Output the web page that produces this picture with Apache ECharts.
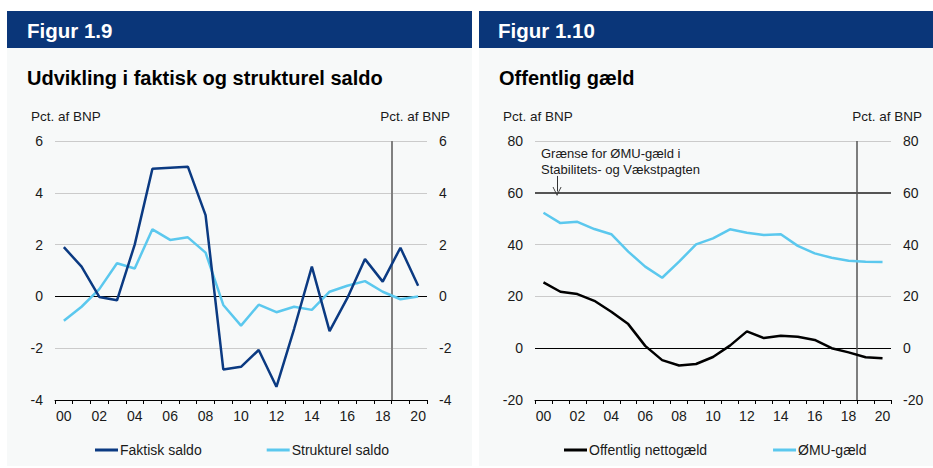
<!DOCTYPE html>
<html>
<head>
<meta charset="utf-8">
<script src="https://cdn.jsdelivr.net/npm/echarts@6/dist/echarts.min.js"></script>
<style>
html,body{margin:0;padding:0;background:#fff;}
#c{width:933px;height:468px;}
</style>
</head>
<body>
<div id="c"></div>
<script>
// ---- data ----
const years = ['00','01','02','03','04','05','06','07','08','09','10','11','12','13','14','15','16','17','18','19','20'];
const faktiskSaldo = [1.9, 1.15, -0.02, -0.15, 2.0, 4.93, 4.97, 5.01, 3.14, -2.82, -2.72, -2.07, -3.49, -1.25, 1.15, -1.34, -0.07, 1.44, 0.57, 1.88, 0.41];
const strukturelSaldo = [-0.94, -0.4, 0.28, 1.28, 1.08, 2.59, 2.18, 2.28, 1.69, -0.33, -1.13, -0.32, -0.61, -0.4, -0.52, 0.18, 0.41, 0.59, 0.18, -0.11, 0.0];
const nettogaeld = [25.4, 21.8, 20.9, 18.3, 14.1, 9.3, 0.9, -4.6, -6.7, -6.1, -3.4, 1.0, 6.5, 3.9, 4.8, 4.4, 3.2, 0.0, -1.6, -3.5, -3.9];
const emuGaeld = [52.3, 48.3, 48.8, 46.0, 44.0, 37.3, 31.5, 27.2, 33.4, 40.1, 42.4, 45.9, 44.6, 43.7, 44.0, 39.5, 36.6, 34.9, 33.8, 33.4, 33.3];
const leftTicks = {min: -4, max: 6, interval: 2};
const rightTicks = {min: -20, max: 80, interval: 20};
const projectionBoundary = 18.5;   // between 18 and 19
const emuLimit = 60;
const arrowX = 0.8, arrowFrom = 66.5, arrowTo = 60.5;

// ---- styles ----
const FONT = 'Liberation Sans, Arial, sans-serif';
const TXT = '#1a1a1a';
const HEADER = '#0A3679';
const PANEL = '#F7F9F9';
const DARK = '#0B3A82';
const LIGHT = '#5BC8EE';
const GRIDC = '#CBCBCB';

const chart = echarts.init(document.getElementById('c'), null, {renderer: 'svg'});

function yAxisPair(gi, t) {
  const base = {
    type: 'value', gridIndex: gi, min: t.min, max: t.max, interval: t.interval,
    axisLine: {show: false}, axisTick: {show: false},
    axisLabel: {color: TXT, fontSize: 14, fontFamily: FONT, margin: 12}
  };
  return [
    Object.assign({}, base, {position: 'left', splitLine: {show: true, lineStyle: {color: GRIDC, width: 1}}}),
    Object.assign({}, base, {position: 'right', splitLine: {show: false}})
  ];
}
function catX(gi) {
  return {
    type: 'category', gridIndex: gi, data: years, boundaryGap: true, position: 'bottom',
    axisLine: {show: true, onZero: false, lineStyle: {color: '#000', width: 1}},
    axisTick: {show: true, interval: 0, length: 4, lineStyle: {color: '#000'}},
    axisLabel: {interval: 1, color: TXT, fontSize: 14, fontFamily: FONT, margin: 9},
    splitLine: {show: false}
  };
}
function valX(gi) {
  return {type: 'value', gridIndex: gi, min: -0.5, max: years.length - 0.5, show: false,
    axisLine: {onZero: false}};
}
function lineSeries(name, data, color, xi, yi, extra) {
  return Object.assign({
    name: name, type: 'line', data: data, xAxisIndex: xi, yAxisIndex: yi,
    symbol: 'none', lineStyle: {color: color, width: 2.5}, itemStyle: {color: color},
    z: 5, animation: false
  }, extra || {});
}
function hLine(val, color, width) {
  return {silent: true, symbol: 'none', label: {show: false}, animation: false,
    lineStyle: {color: color, width: width, type: 'solid'}, data: [{yAxis: val}]};
}

const arrowPath = 'path://M0,10 L5,0 L10,10 L9,10 L5,2 L1,10 Z';

const option = {
  animation: false,
  graphic: [
    {type: 'rect', shape: {x: 7, y: 11, width: 465, height: 455}, style: {fill: PANEL}, z: -10},
    {type: 'rect', shape: {x: 479, y: 11, width: 454, height: 455}, style: {fill: PANEL}, z: -10},
    {type: 'rect', shape: {x: 7, y: 11, width: 465, height: 37}, style: {fill: HEADER}, z: -9},
    {type: 'rect', shape: {x: 479, y: 11, width: 454, height: 37}, style: {fill: HEADER}, z: -9},
    {type: 'text', x: 27, y: 30, style: {text: 'Figur 1.9', fill: '#fff', font: 'bold 20.5px ' + FONT, textVerticalAlign: 'middle'}},
    {type: 'text', x: 498, y: 30, style: {text: 'Figur 1.10', fill: '#fff', font: 'bold 20.5px ' + FONT, textVerticalAlign: 'middle'}},
    {type: 'text', x: 27, y: 78, style: {text: 'Udvikling i faktisk og strukturel saldo', fill: '#000', font: 'bold 20px ' + FONT, textVerticalAlign: 'middle'}},
    {type: 'text', x: 499, y: 78, style: {text: 'Offentlig gæld', fill: '#000', font: 'bold 20px ' + FONT, textVerticalAlign: 'middle'}},
    {type: 'text', x: 31, y: 116, style: {text: 'Pct. af BNP', fill: TXT, font: '13.5px ' + FONT, textVerticalAlign: 'middle'}},
    {type: 'text', x: 450, y: 116, style: {text: 'Pct. af BNP', fill: TXT, font: '13.5px ' + FONT, textVerticalAlign: 'middle', textAlign: 'right'}},
    {type: 'text', x: 503, y: 116, style: {text: 'Pct. af BNP', fill: TXT, font: '13.5px ' + FONT, textVerticalAlign: 'middle'}},
    {type: 'text', x: 922, y: 116, style: {text: 'Pct. af BNP', fill: TXT, font: '13.5px ' + FONT, textVerticalAlign: 'middle', textAlign: 'right'}},
    {type: 'text', x: 541, y: 146, style: {text: 'Grænse for ØMU-gæld i\nStabilitets- og Vækstpagten', fill: TXT, font: '13px ' + FONT, lineHeight: 15.5}}
  ],
  grid: [
    {left: 55, right: 506, top: 141, bottom: 68},
    {left: 535, right: 42, top: 141, bottom: 68}
  ],
  xAxis: [catX(0), catX(1), valX(0), valX(1)],
  yAxis: yAxisPair(0, leftTicks).concat(yAxisPair(1, rightTicks)),
  legend: [
    {data: ['Faktisk saldo', 'Strukturel saldo'], left: 95, top: 443, padding: 0, itemGap: 65, itemWidth: 23, itemHeight: 3, icon: 'rect',
     textStyle: {color: TXT, fontSize: 14, fontFamily: FONT, padding: [0, 0, 0, -3]}},
    {data: ['Offentlig nettogæld', 'ØMU-gæld'], left: 564, top: 443, padding: 0, itemGap: 66, itemWidth: 23, itemHeight: 3, icon: 'rect',
     textStyle: {color: TXT, fontSize: 14, fontFamily: FONT, padding: [0, 0, 0, -3]}}
  ],
  series: [
    lineSeries('Strukturel saldo', strukturelSaldo, LIGHT, 0, 0),
    lineSeries('Faktisk saldo', faktiskSaldo, DARK, 0, 0, {markLine: hLine(0, '#000', 1.2)}),
    lineSeries('ØMU-gæld', emuGaeld, LIGHT, 1, 2, {markLine: hLine(emuLimit, '#555', 2)}),
    lineSeries('Offentlig nettogæld', nettogaeld, '#000', 1, 2, {markLine: hLine(0, '#000', 1.2)}),
    {type: 'line', xAxisIndex: 2, yAxisIndex: 0, data: [], animation: false,
     markLine: {silent: true, symbol: 'none', label: {show: false}, animation: false,
       lineStyle: {color: '#808080', width: 2, type: 'solid'}, data: [{xAxis: projectionBoundary}]}},
    {type: 'line', xAxisIndex: 3, yAxisIndex: 2, data: [], animation: false,
     markLine: {silent: true, symbol: 'none', label: {show: false}, animation: false,
       lineStyle: {color: '#555', width: 1.5, type: 'solid'},
       data: [
         {xAxis: projectionBoundary},
         [{coord: [arrowX, arrowFrom], symbol: 'none', lineStyle: {color: '#333', width: 1}},
          {coord: [arrowX, arrowTo], symbol: arrowPath, symbolSize: [9, 9], lineStyle: {color: '#333', width: 1}}]
       ]}}
  ]
};
chart.setOption(option);
</script>
</body>
</html>
